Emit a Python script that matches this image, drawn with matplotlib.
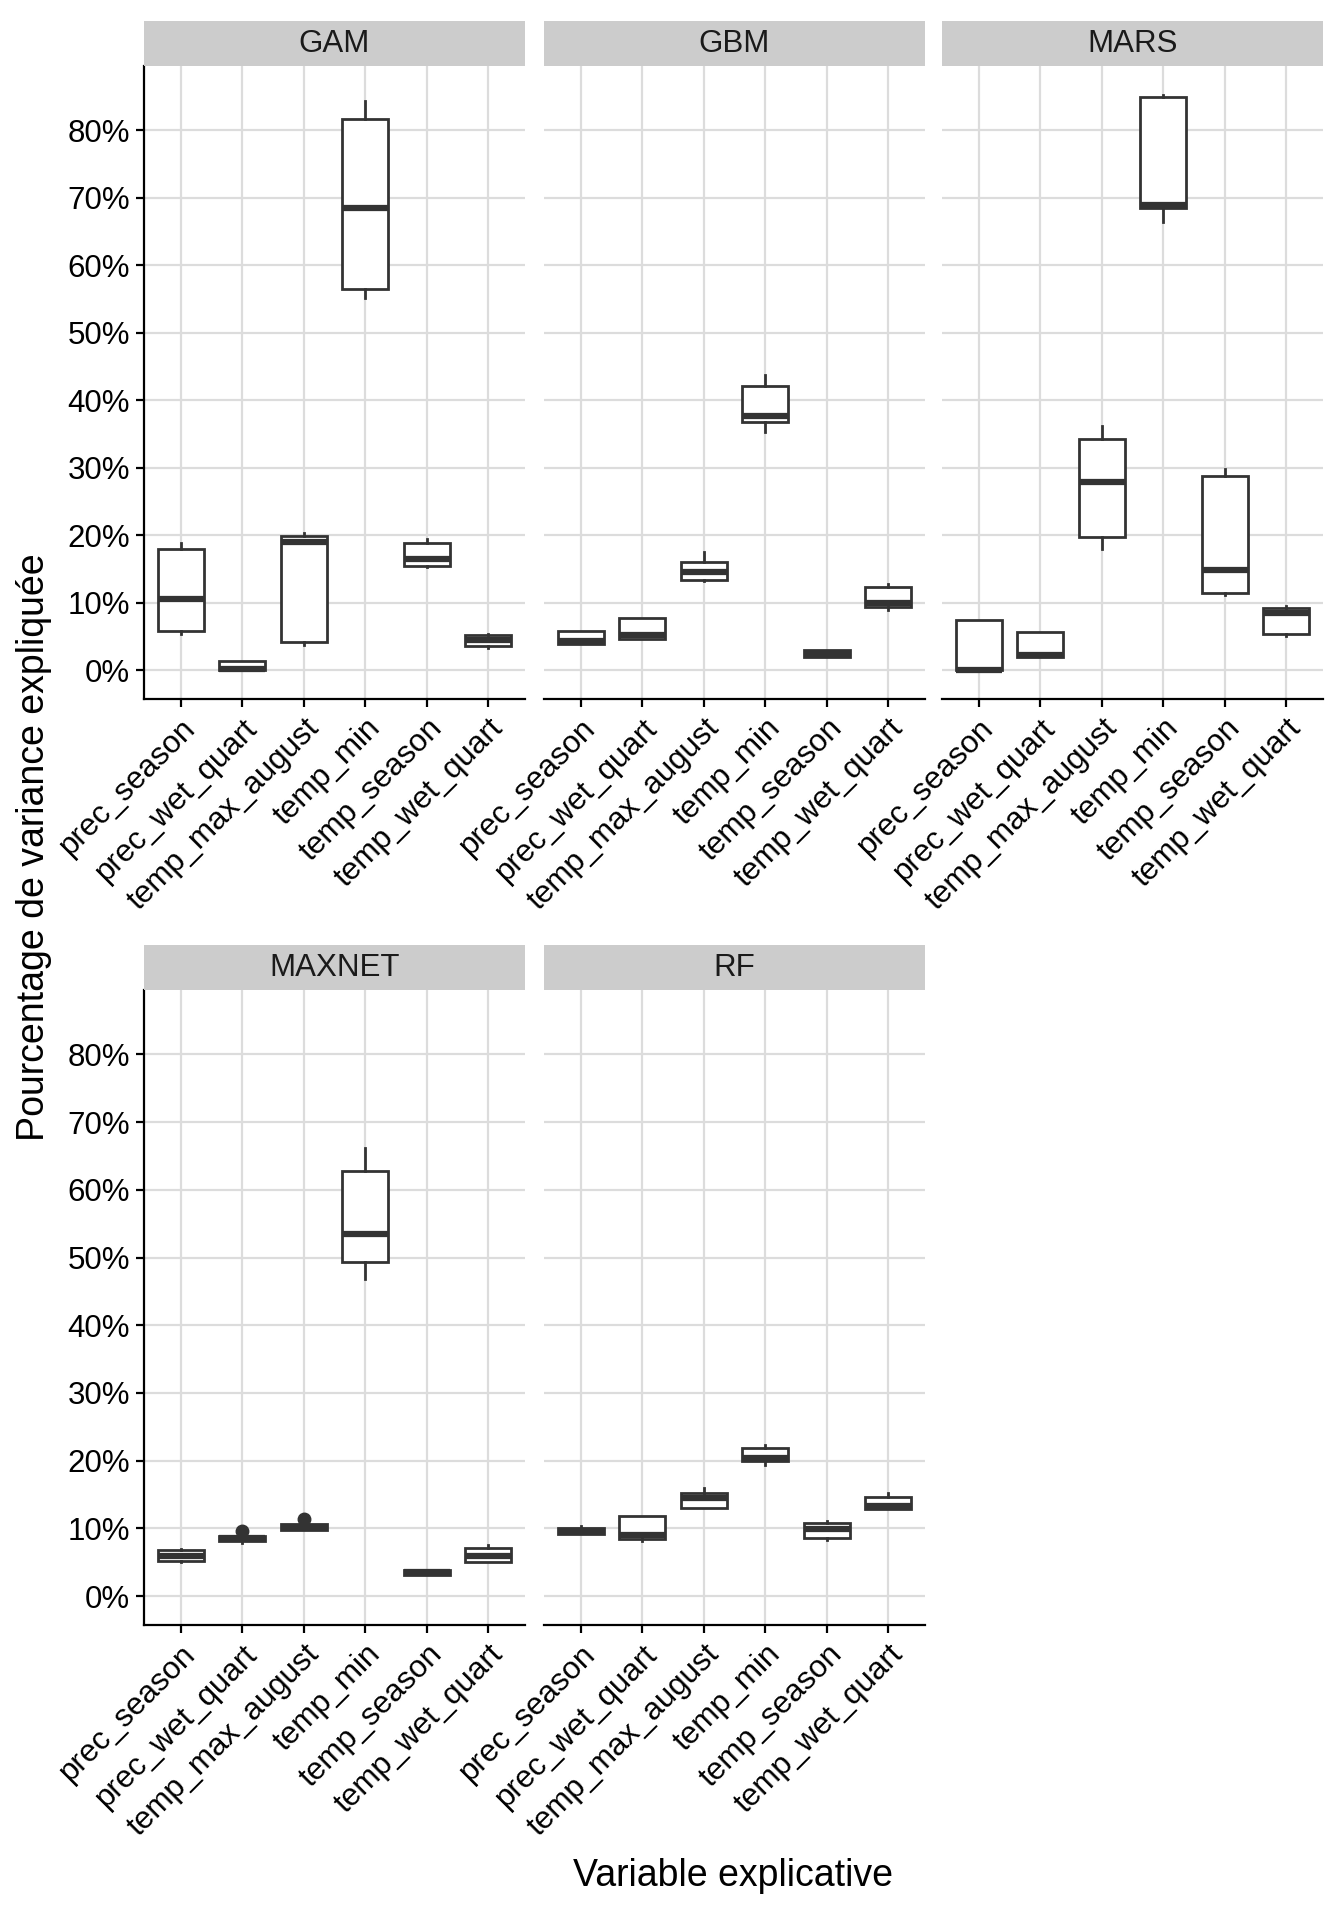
import matplotlib
matplotlib.use("Agg")
import matplotlib.pyplot as plt

plt.rcParams['font.family'] = ['Liberation Sans', 'DejaVu Sans']

variables = ["prec_season", "prec_wet_quart", "temp_max_august",
             "temp_min", "temp_season", "temp_wet_quart"]
models = ["GAM", "GBM", "MARS", "MAXNET", "RF"]

# box statistics per model (in %): whisker low, q1, median, q3, whisker high
gam_lo = [5.4, 0.0, 3.8, 55.2, 15.3, 3.3]
gam_q1 = [5.8, 0.05, 4.2, 56.5, 15.5, 3.6]
gam_med = [10.6, 0.2, 19.0, 68.4, 16.5, 4.5]
gam_q3 = [18.0, 1.4, 19.9, 81.7, 18.9, 5.15]
gam_hi = [18.9, 1.4, 20.4, 84.3, 19.4, 5.4]

gbm_lo = [3.9, 4.6, 13.2, 35.3, 2.0, 8.95]
gbm_q1 = [3.9, 4.6, 13.4, 36.7, 2.0, 9.35]
gbm_med = [4.3, 5.15, 14.6, 37.6, 2.45, 10.0]
gbm_q3 = [5.8, 7.7, 16.1, 42.1, 3.0, 12.35]
gbm_hi = [5.8, 7.7, 17.5, 43.8, 3.0, 12.75]

mars_lo = [0.0, 1.9, 18.0, 66.4, 11.1, 5.0]
mars_q1 = [0.0, 1.9, 19.7, 68.4, 11.4, 5.3]
mars_med = [0.1, 2.2, 27.9, 68.9, 14.9, 8.5]
mars_q3 = [7.5, 5.7, 34.3, 84.9, 28.7, 9.2]
mars_hi = [7.5, 5.7, 36.2, 85.2, 29.85, 9.55]

maxnet_lo = [5.0, 7.9, 9.8, 46.8, 3.1, 5.0]
maxnet_q1 = [5.15, 8.2, 9.8, 49.3, 3.1, 5.0]
maxnet_med = [5.9, 8.6, 10.2, 53.5, 3.5, 6.0]
maxnet_q3 = [6.8, 8.9, 10.6, 62.75, 3.9, 7.05]
maxnet_hi = [6.9, 8.9, 10.6, 66.1, 3.9, 7.5]
maxnet_out = [[], [9.6], [11.45], [], [], []]

rf_lo = [9.15, 8.1, 12.95, 19.3, 8.3, 12.8]
rf_q1 = [9.15, 8.5, 12.95, 19.9, 8.6, 12.8]
rf_med = [9.6, 9.1, 14.45, 20.35, 9.85, 13.35]
rf_q3 = [10.0, 11.8, 15.3, 21.9, 10.85, 14.65]
rf_hi = [10.3, 11.8, 15.9, 22.3, 11.1, 15.2]

no_out = [[] for _ in variables]
stats_by_model = {
    "GAM": (gam_lo, gam_q1, gam_med, gam_q3, gam_hi, no_out),
    "GBM": (gbm_lo, gbm_q1, gbm_med, gbm_q3, gbm_hi, no_out),
    "MARS": (mars_lo, mars_q1, mars_med, mars_q3, mars_hi, no_out),
    "MAXNET": (maxnet_lo, maxnet_q1, maxnet_med, maxnet_q3, maxnet_hi, maxnet_out),
    "RF": (rf_lo, rf_q1, rf_med, rf_q3, rf_hi, no_out),
}

W, H = 1344, 1920
fig = plt.figure(figsize=(W / 100, H / 100), dpi=100)

col_left = [144, 544, 942]
panel_w = 381
rows = [(66, 699), (990, 1625)]
strip_h = 45
dark = "#333333"
grid_c = "#DCDCDC"
fs = 22.5

for i, m in enumerate(models):
    r, c = divmod(i, 3)
    top, bot = rows[r]
    x0 = col_left[c]
    ax = fig.add_axes([x0 / W, 1 - bot / H, panel_w / W, (bot - top) / H])
    sax = fig.add_axes([x0 / W, 1 - top / H, panel_w / W, strip_h / H])
    sax.set_facecolor("#CCCCCC")
    sax.set_xticks([]); sax.set_yticks([])
    for s in sax.spines.values():
        s.set_visible(False)
    sax.text(0.5, 0.5, m, ha="center", va="center", fontsize=fs, color="#1A1A1A",
             transform=sax.transAxes)

    lo, q1, med, q3, hi, out = stats_by_model[m]
    stats = []
    for k, v in enumerate(variables):
        stats.append(dict(label=v, whislo=lo[k], q1=q1[k], med=med[k],
                          q3=q3[k], whishi=hi[k], fliers=out[k]))
    ax.bxp(stats, positions=range(1, 7), widths=0.75, patch_artist=True,
           showcaps=False,
           boxprops=dict(facecolor="white", edgecolor=dark, linewidth=2),
           medianprops=dict(color=dark, linewidth=4.5, solid_capstyle="butt"),
           whiskerprops=dict(color=dark, linewidth=2),
           flierprops=dict(marker="o", markerfacecolor=dark, markeredgecolor=dark,
                           markersize=9),
           zorder=3)

    ax.set_xlim(0.4, 6.6)
    ax.set_ylim(-4.26, 89.5)
    yt = list(range(0, 90, 10))
    ax.set_yticks(yt)
    ax.set_xticks(range(1, 7))
    ax.set_xticklabels(variables, rotation=45, ha="right", rotation_mode="anchor",
                       fontsize=fs)
    ax.grid(True, color=grid_c, linewidth=1.6, zorder=0)
    ax.set_axisbelow(True)
    for s in ["top", "right"]:
        ax.spines[s].set_visible(False)
    ax.spines["bottom"].set_linewidth(1.6)
    ax.spines["left"].set_linewidth(1.6)
    ax.tick_params(axis="both", length=6, width=1.6, color="black",
                   labelcolor="black", labelsize=fs, pad=4)
    if c == 0:
        ax.set_yticklabels([f"{t}%" for t in yt])
    else:
        ax.spines["left"].set_visible(False)
        ax.tick_params(axis="y", length=0, labelleft=False)

fig.text(34 / W, 1 - 847 / H, "Pourcentage de variance expliquée", rotation=90,
         ha="center", va="center", fontsize=27)
fig.text(733 / W, 1 - 1876 / H, "Variable explicative", ha="center", va="center",
         fontsize=27)

fig.savefig("out.png", dpi=100, facecolor="white")
